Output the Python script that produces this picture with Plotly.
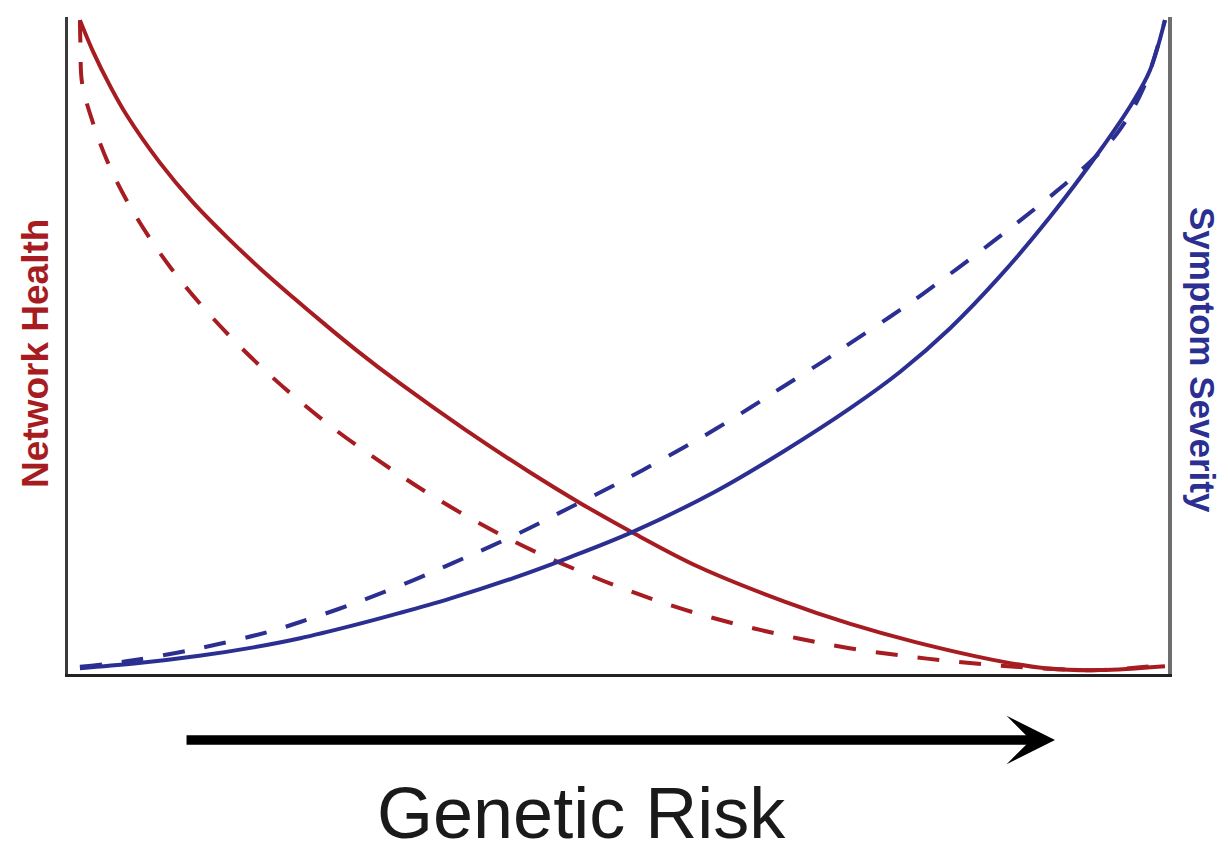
import plotly.graph_objects as go

# Genetic risk (0-100) and levels (0-100)
risk_health_solid = [0, 1.2, 2.8, 4.3, 7.4, 10.4, 13.5, 16.6, 19.6, 22.5, 25.5, 29.5, 35.5, 41.5, 46, 51, 57, 65, 71, 77, 85, 89, 94, 100]
health_solid = [100, 95.2, 89.8, 85.4, 78.0, 72.0, 66.7, 61.8, 57.4, 53.3, 49.2, 44.1, 37.0, 30.4, 25.8, 21.1, 15.9, 10.5, 7.1, 4.3, 1.3, 0.3, 0, 0.6]

risk_health_dashed = [0, 0.05, 0.2, 1.2, 2.6, 4.3, 6.3, 8.5, 11.1, 13.8, 16.6, 19.4, 24, 29.5, 32, 35.3, 38.7, 42.1, 45.8, 49.5, 52.8, 56.5, 60.2, 64.2, 67.9, 71.9, 75.9, 79.5, 83.2, 87.8, 94, 100]
health_dashed = [100, 96, 90.3, 84.2, 78, 72.3, 66.8, 61.6, 56.3, 51.4, 46.8, 42.6, 36.4, 30.0, 27.3, 24.0, 20.9, 18.1, 15.4, 12.9, 10.9, 8.9, 7.2, 5.6, 4.3, 3.1, 2.2, 1.5, 0.9, 0.35, 0, 0.8]

risk_severity_solid = [0, 5, 11, 16, 20.3, 25, 29.5, 34.1, 40, 44.9, 51, 58.7, 64.8, 71, 75.6, 80.2, 84.8, 89.4, 94, 97, 98.6, 100]
severity_solid = [0.3, 1.0, 2.2, 3.5, 4.9, 6.8, 8.8, 11.0, 14.2, 17.2, 21.3, 27.6, 33.6, 40.3, 45.9, 52.6, 60.6, 69.7, 79.9, 87.3, 92.2, 100]

risk_severity_dashed = [0, 4.9, 11.1, 17.2, 20.3, 25.5, 30.7, 34.4, 37.8, 41.5, 44.9, 48.6, 51.9, 55.6, 58.7, 61.8, 64.8, 68.5, 71.0, 74.7, 77.7, 80.8, 83.9, 86.9, 90.1, 93.1, 95.6, 98.0, 100]
severity_dashed = [0.5, 1.5, 3.4, 5.8, 7.4, 10.4, 13.8, 16.5, 19.0, 21.9, 24.8, 27.9, 30.8, 34.2, 37.2, 40.4, 43.6, 47.5, 50.3, 54.4, 57.9, 61.7, 65.6, 69.5, 73.8, 78.2, 82.6, 89.5, 100]

RED = "#a71c20"
BLUE = "#2c2f92"
DASH = "22px,20px"
LINE = dict(width=4, shape="spline", smoothing=1.0)

fig = go.Figure()
fig.add_trace(go.Scatter(x=risk_health_solid, y=health_solid, mode="lines",
                         line=dict(color=RED, **LINE)))
fig.add_trace(go.Scatter(x=risk_health_dashed, y=health_dashed, mode="lines",
                         line=dict(color=RED, dash=DASH, **LINE)))
fig.add_trace(go.Scatter(x=risk_severity_solid, y=severity_solid, mode="lines", yaxis="y2",
                         line=dict(color=BLUE, **LINE)))
fig.add_trace(go.Scatter(x=risk_severity_dashed, y=severity_dashed, mode="lines", yaxis="y2",
                         line=dict(color=BLUE, dash=DASH, **LINE)))

yr = [-0.6, 100.48]
fig.update_layout(
    width=1220, height=846,
    margin=dict(l=60, r=60, t=9, b=180),
    paper_bgcolor="white", plot_bgcolor="white",
    showlegend=False,
    xaxis=dict(range=[-1.1, 100.28], showline=True, linecolor="#222222", linewidth=3,
               showticklabels=False, ticks="", showgrid=False, zeroline=False),
    yaxis=dict(range=yr, showline=True, linecolor="#3a3a3a", linewidth=3,
               showticklabels=False, ticks="", showgrid=False, zeroline=False),
    yaxis2=dict(range=yr, overlaying="y", side="right", showline=True, linecolor="#6e6e6e",
                linewidth=4, showticklabels=False, ticks="", showgrid=False, zeroline=False),
    annotations=[
        dict(text="<b>Network Health</b>", xref="paper", yref="paper", x=-0.0291, y=0.4886,
             textangle=-90, showarrow=False, xanchor="center", yanchor="middle",
             font=dict(family="Liberation Sans, Arial", size=37, color=RED)),
        dict(text="<b>Symptom Severity</b>", xref="paper", yref="paper", x=1.0309, y=0.478,
             textangle=90, showarrow=False, xanchor="center", yanchor="middle",
             font=dict(family="Liberation Sans, Arial", size=35, color=BLUE)),
        dict(text="Genetic Risk", xref="paper", yref="paper", x=0.4664, y=-0.2116,
             showarrow=False, xanchor="center", yanchor="middle",
             font=dict(family="Liberation Sans, Arial", size=72, color="#1a1a1a")),
        dict(text="", xref="paper", yref="paper", x=0.8973, y=-0.1005,
             ax=-870, ay=0, showarrow=True, arrowhead=3, arrowwidth=9.5, arrowsize=0.85,
             arrowcolor="#000000", standoff=0),
    ],
)

fig.write_html("out.html")
